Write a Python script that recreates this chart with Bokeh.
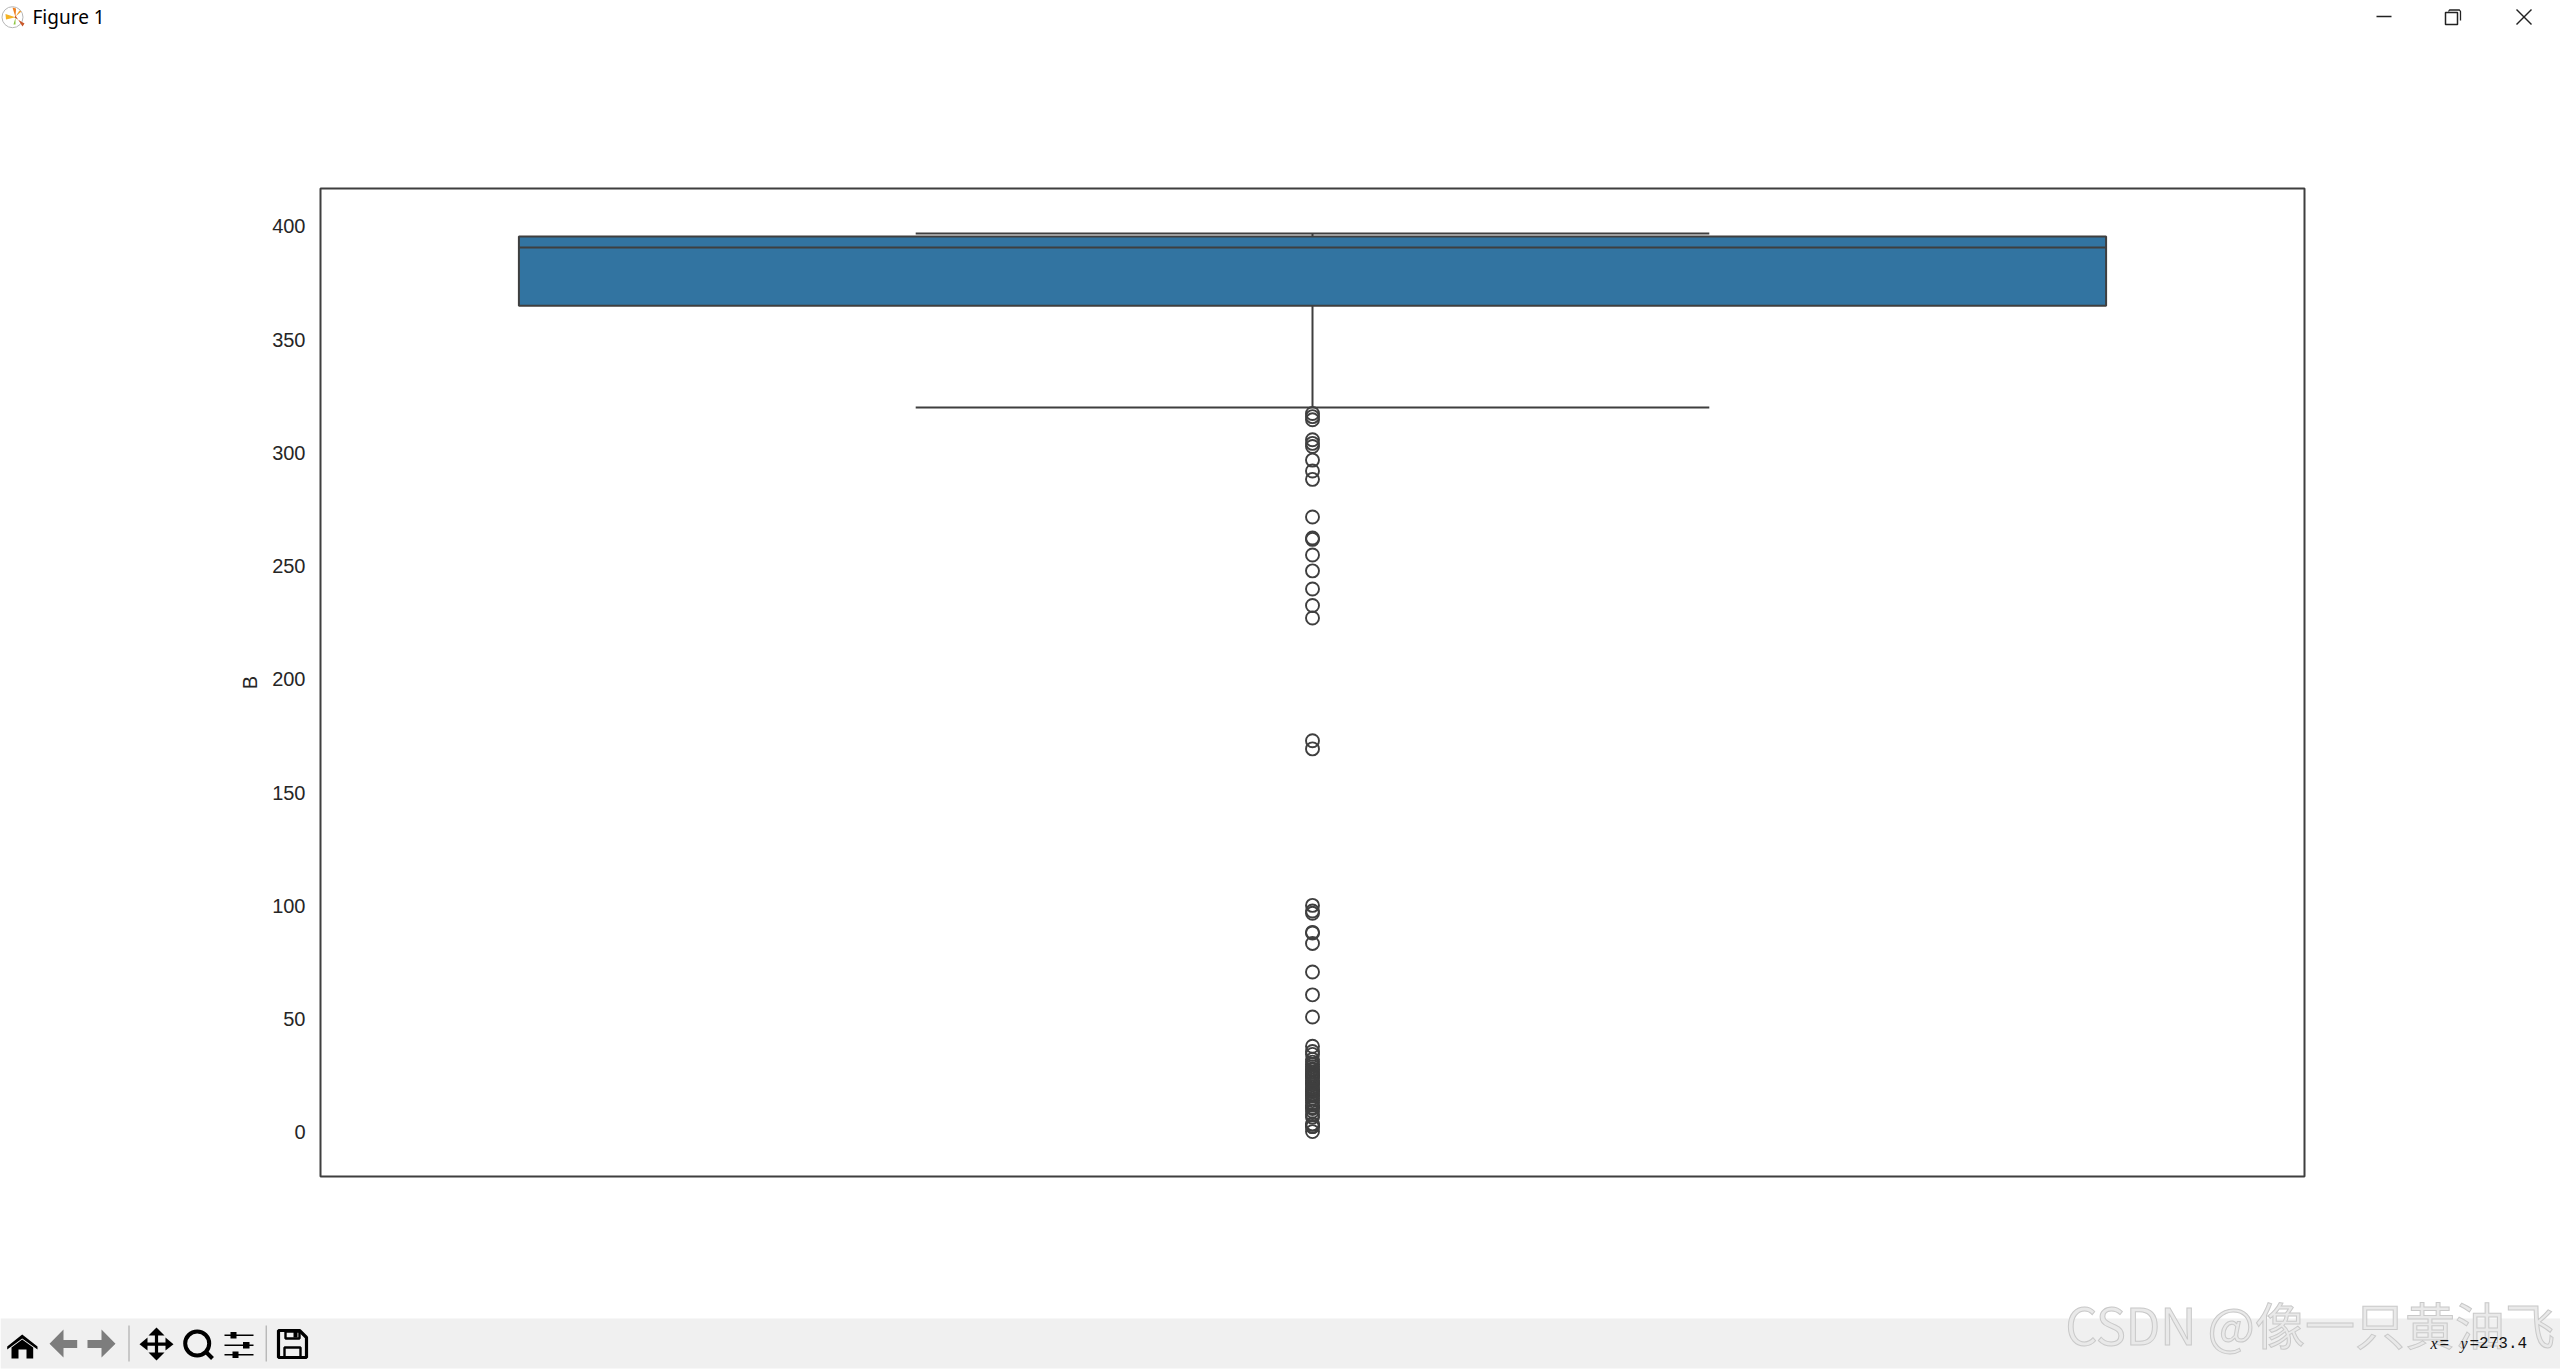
from bokeh.plotting import figure
from bokeh.layouts import column
from bokeh.models import FixedTicker
from bokeh.core.properties import value
from bokeh.embed import file_html
from bokeh.resources import INLINE

# ---- chart values ----
y_label = "B"
y_ticks = [0, 50, 100, 150, 200, 250, 300, 350, 400]
q1 = 365.0
median = 390.7
q3 = 395.5
whisker_low = 320.0
whisker_high = 396.9
outliers = [
    317.4, 316.0, 314.6, 305.8, 304.2, 302.8, 296.8, 292.0, 288.3, 271.7,
    262.4, 261.8, 254.9, 247.9, 239.9, 232.6, 227.1, 172.9, 169.3,
    100.2, 97.7, 96.7, 88.3, 88.0, 83.4, 70.8, 60.7, 50.9,
    38.0, 35.7, 34.4, 32.2, 31.0, 30.0, 29.0, 28.0, 27.5, 26.5, 25.8, 25.0,
    24.6, 24.0, 23.0, 22.0, 21.6, 21.0, 20.0, 19.0, 18.8, 18.0, 17.0, 16.5,
    16.0, 15.0, 14.0, 13.0, 12.0, 11.0, 10.5, 9.3, 7.7, 6.7, 3.7, 3.5, 2.6, 2.5, 0.32,
]
window_title = "Figure 1"
watermark = "CSDN @像一只黄油飞"
status_value = "=273.4"

INK = "#3f3f3f"
BLUE = "#3274a1"
BAR = "#f0f0f0"
W = 2560


def strip(height, y_top, y_bottom):
    f = figure(width=W, height=height, x_range=(0, W), y_range=(y_bottom, y_top),
               x_axis_type=None, y_axis_type=None, toolbar_location=None,
               output_backend="svg", min_border=0, outline_line_color=None, frame_align=False)
    f.grid.visible = False
    return f


# ---- window title bar ----
top = strip(40, 0, 40)
top.scatter([12], [16.7], size=21, marker="circle", fill_color="white", line_color="#b5b5b5", line_width=1)
top.patches(
    [[15, 5, 5.5], [15, 12, 15.5], [15, 22, 24, 14], [15, 19, 21], [15, 13, 15]],
    [[16.7, 13.5, 19], [16.7, 7, 8], [15, 26, 23, 17], [16, 10, 11], [17, 24, 24]],
    fill_color=["#f5b324", "#f07f1d", "#c9572a", "#f0a030", "#8cc63f"], line_color=None)
top.text([32], [16], text=[window_title], text_font=value("Noto Sans"), text_font_size="19px",
         text_color="#000000", text_baseline="alphabetic")
top.segment([2376], [16], [2391], [16], line_color="#222222", line_width=1.3)
top.quad(left=[2445], right=[2457], top=[12], bottom=[24], fill_color=None, line_color="#222222", line_width=1.5)
top.multi_line([[2448, 2449, 2459, 2460, 2460]], [[11, 9.5, 9.5, 11, 20]], line_color="#222222", line_width=1.3)
top.segment([2516, 2516], [9, 24], [2531, 2531], [24, 9], line_color="#222222", line_width=1.4)

# ---- chart ----
p = figure(width=W, height=1240, x_range=(-0.5, 0.5), y_range=(-19.51, 416.73),
           toolbar_location=None, output_backend="svg", frame_align=False,
           min_border_left=320, min_border_right=256, min_border_top=148, min_border_bottom=104,
           outline_line_color=INK, outline_line_width=2)
p.grid.visible = False
p.xaxis.visible = False
ax = p.yaxis[0]
ax.ticker = FixedTicker(ticks=y_ticks)
ax.axis_line_color = None
ax.major_tick_line_color = None
ax.minor_tick_line_color = None
ax.major_label_text_font = "Liberation Sans"
ax.major_label_text_font_size = "20px"
ax.major_label_text_color = "#262626"
ax.major_label_standoff = 9
ax.axis_label = y_label
ax.axis_label_text_font = "Liberation Sans"
ax.axis_label_text_font_style = "normal"
ax.axis_label_text_font_size = "20px"
ax.axis_label_text_color = "#262626"
ax.axis_label_standoff = 8

pos = 0
box_half = 0.4
cap_half = 0.2
p.segment([pos, pos], [q1, q3], [pos, pos], [whisker_low, whisker_high], line_color=INK, line_width=2)
p.segment([pos - cap_half] * 2, [whisker_low, whisker_high], [pos + cap_half] * 2, [whisker_low, whisker_high],
          line_color=INK, line_width=2)
p.quad(left=[pos - box_half], right=[pos + box_half], bottom=[q1], top=[q3],
       fill_color=BLUE, line_color=INK, line_width=2)
p.segment([pos - box_half], [median], [pos + box_half], [median], line_color=INK, line_width=2)
p.scatter([pos] * len(outliers), outliers, marker="circle", size=13, fill_color=None,
          line_color=INK, line_width=1.9)

# ---- toolbar strip ----
bot = strip(90, 1280, 1370)
bot.quad(left=[0], right=[W], top=[1318], bottom=[1368], fill_color=BAR, line_color=None)
K = "#000000"
# home
bot.patches([[6.7, 21.7, 37, 37, 21.7, 6.7]], [[1346, 1334, 1346, 1349, 1338, 1349]], fill_color=K, line_color=None)
bot.patches([[11, 21.7, 32.7, 32.7, 26, 26, 18, 18, 11]],
            [[1347, 1339, 1347, 1358, 1358, 1349, 1349, 1358, 1358]], fill_color=K, line_color=None)
# back, forward
bot.patches([[49, 63, 63, 76.7, 76.7, 63, 63], [115, 101, 101, 87, 87, 101, 101]],
            [[1343.3, 1329, 1339.5, 1339.5, 1347.5, 1347.5, 1357]] * 2, fill_color="#7d7d7d", line_color=None)
# separators
bot.segment([128.5, 265.7], [1325, 1325], [128.5, 265.7], [1361, 1361], line_color="#a0a0a0", line_width=1)
# move
bot.segment([142, 156], [1343.7, 1329], [170, 156], [1343.7, 1358], line_color=K, line_width=3.2)
bot.patches([[139, 147, 147], [173, 165, 165], [156, 148, 164], [156, 148, 164]],
            [[1343.7, 1337, 1350], [1343.7, 1337, 1350], [1327, 1335, 1335], [1360, 1352, 1352]],
            fill_color=K, line_color=None)
# zoom
bot.scatter([196.7], [1343], marker="circle", size=24, fill_color=None, line_color=K, line_width=4)
bot.segment([205], [1351], [212], [1358], line_color=K, line_width=4)
# sliders
bot.segment([224, 224, 224], [1334.7, 1344.7, 1354.3], [253, 253, 253], [1334.7, 1344.7, 1354.3],
            line_color=K, line_width=1.6)
bot.quad(left=[230, 242.5, 232], right=[236, 249, 238], top=[1331.5, 1341.5, 1351], bottom=[1338, 1348, 1357.5],
         fill_color=K, line_color=None)
# save
bot.patches([[278, 299, 306, 306, 278]], [[1330, 1330, 1337, 1357, 1357]], fill_color=None, line_color=K, line_width=3.2)
bot.quad(left=[285, 284], right=[299, 300], top=[1331, 1347], bottom=[1338, 1357], fill_color=None, line_color=K, line_width=2.4)
bot.quad(left=[293], right=[297], top=[1331], bottom=[1337], fill_color=K, line_color=None)
# watermark and cursor readout
bot.text([2065], [1322], text=[watermark], text_font=value("Noto Sans CJK SC"), text_font_size="50px",
         text_color="#e9e9e9", text_outline_color="#c9c9c9", text_baseline="alphabetic")
bot.text([2430], [1343], text=["x"], text_font=value("Liberation Serif"), text_font_style="italic",
         text_font_size="16px", text_color="#111111", text_baseline="alphabetic")
bot.text([2439], [1343], text=["="], text_font=value("Liberation Mono"),
         text_font_size="16px", text_color="#111111", text_baseline="alphabetic")
bot.text([2460], [1343], text=["y"], text_font=value("Liberation Serif"), text_font_style="italic",
         text_font_size="16px", text_color="#111111", text_baseline="alphabetic")
bot.text([2469], [1343], text=[status_value], text_font=value("Liberation Mono"),
         text_font_size="16px", text_color="#111111", text_baseline="alphabetic")

page = column(top, p, bot, spacing=0)
open("out.html", "w").write(file_html(page, INLINE))
